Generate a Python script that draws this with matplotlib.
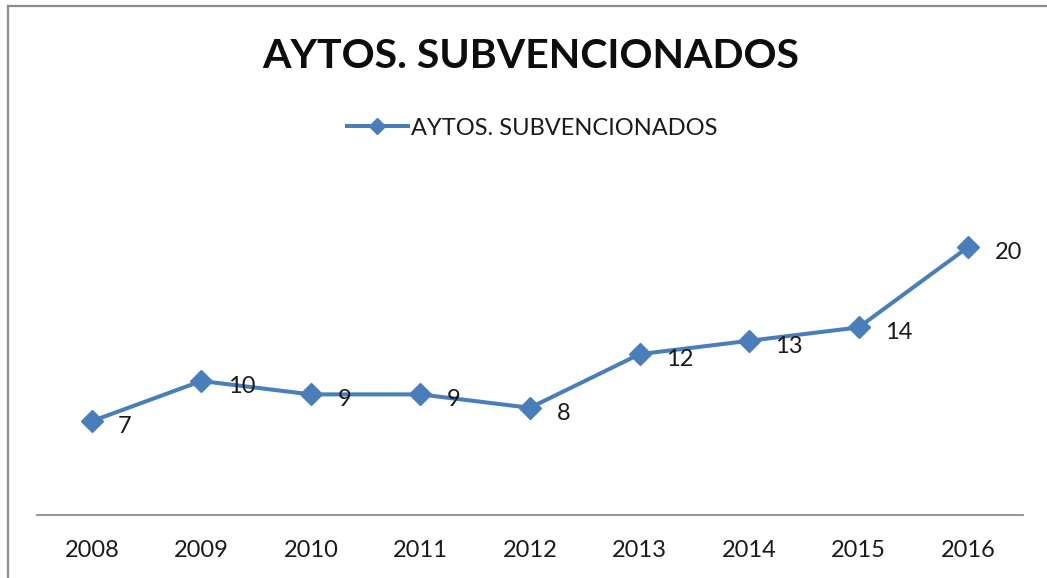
import matplotlib.pyplot as plt
from matplotlib.lines import Line2D

years = ['2008', '2009', '2010', '2011', '2012', '2013', '2014', '2015', '2016']
valores = [7, 10, 9, 9, 8, 12, 13, 14, 20]
titulo = 'AYTOS. SUBVENCIONADOS'

plt.rcParams['font.family'] = ['Lato', 'DejaVu Sans']
azul = '#4a7ebb'

fig = plt.figure(figsize=(10.47, 5.78), dpi=100)
ax = fig.add_axes([37 / 1047, 63 / 578, 986 / 1047, 335 / 578])

x = range(len(years))
ax.plot(x, valores, color=azul, linewidth=2.9, marker='D', markersize=11,
        label=titulo)
for xi, v in zip(x, valores):
    ax.annotate(str(v), (xi, v), xytext=(19, -4), textcoords='offset points',
                ha='left', va='center', fontsize=17, color='#1a1a1a')

ax.set_xlim(-0.5, len(years) - 0.5)
ax.set_ylim(0, 25)
ax.set_xticks(list(x))
ax.set_xticklabels(years, fontsize=17, color='#1a1a1a')
ax.tick_params(axis='x', length=0, pad=18)
ax.set_yticks([])
for s in ['top', 'right', 'left']:
    ax.spines[s].set_visible(False)
ax.spines['bottom'].set_color('#8c8c8c')
ax.spines['bottom'].set_linewidth(1.3)

# titulo y leyenda
fig.text(0.507, 1 - 57 / 578, titulo, ha='center', va='center',
         fontsize=29.5, fontweight='bold', color='#0d0d0d')
fig.legend(loc='center', bbox_to_anchor=(0.508, 1 - 128 / 578), frameon=False,
           fontsize=17, handlelength=2.6, handletextpad=0.1, markerscale=0.75,
           labelcolor='#1a1a1a')

# borde del grafico
fig.add_artist(Line2D([8 / 1047, 8 / 1047], [0, 1 - 6 / 578],
                      transform=fig.transFigure, color='#8c8c8c', linewidth=1.6))
fig.add_artist(Line2D([8 / 1047, 1], [1 - 6 / 578, 1 - 6 / 578],
                      transform=fig.transFigure, color='#8c8c8c', linewidth=1.6))

fig.savefig('out.png', dpi=100)
